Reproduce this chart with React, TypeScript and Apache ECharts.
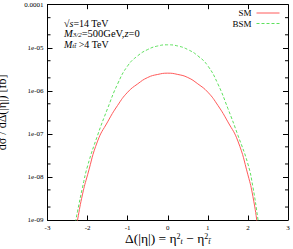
import React, { useEffect, useRef } from "react";
import * as echarts from "echarts";

const xs = [-2.35, -2.3, -2.25, -2.125, -2, -1.75, -1.5, -1.25, -1, -0.75, -0.5, -0.25, 0, 0.25, 0.5, 0.75, 1, 1.25, 1.5, 1.75, 2, 2.125, 2.25, 2.3, 2.35];
const smValues = [3e-10, 5e-10, 1.0e-9, 4.0e-9, 1.12e-8, 6.8e-8, 1.9e-7, 4.6e-7, 9.3e-7, 1.45e-6, 2.04e-6, 2.4e-6, 2.57e-6, 2.4e-6, 2.04e-6, 1.45e-6, 9.3e-7, 4.6e-7, 1.9e-7, 6.8e-8, 1.12e-8, 3.5e-9, 6.3e-10, 2.5e-10, 1.5e-10];
const bsmValues = [4e-10, 8.9e-10, 1.6e-9, 5.8e-9, 1.8e-8, 9.3e-8, 3.9e-7, 1.45e-6, 3.8e-6, 6.5e-6, 9.1e-6, 1.1e-5, 1.17e-5, 1.1e-5, 9.1e-6, 6.5e-6, 3.8e-6, 1.45e-6, 3.9e-7, 9.3e-8, 2.0e-8, 5.8e-9, 1.05e-9, 5e-10, 2.5e-10];
const yTickValues = [1e-9, 1e-8, 1e-7, 1e-6, 1e-5, 1e-4];
const yTickLabels = ["1e-09", "1e-08", "1e-07", "1e-06", "1e-05", "0.0001"];
const yMinorTicks = [5e-5, 2e-5, 5e-6, 2e-6, 5e-7, 2e-7, 5e-8, 2e-8, 5e-9, 2e-9];
const xTickLabels = ["-3", "-2", "-1", "0", "1", "2", "3"];

const FONT = "Liberation Serif";

export default function App() {
  const ref = useRef<HTMLDivElement>(null);
  useEffect(() => {
    if (!ref.current) return;
    const chart = echarts.init(ref.current, null, { renderer: "svg" });
    const labelFor = (v: number) => {
      const e = Math.round(Math.log10(v));
      const i = yTickValues.findIndex((t) => Math.round(Math.log10(t)) === e);
      return i >= 0 ? yTickLabels[i] : "";
    };
    const xLabel = (v: number) => {
      const i = Math.round(v) + 3;
      return xTickLabels[i] ?? "";
    };
    const ann = (fs: number) => ({
      a: { fontFamily: FONT, fontSize: fs, color: "#000", lineHeight: 10 },
      i: { fontFamily: FONT, fontSize: fs, fontStyle: "italic", color: "#000", lineHeight: 10 },
      sub: { fontFamily: FONT, fontSize: 7, fontStyle: "italic", color: "#000", lineHeight: 6, verticalAlign: "bottom" },
    });
    const axisLine = { show: true, onZero: false, lineStyle: { color: "#000", width: 1 } };
    chart.setOption({
      animation: false,
      backgroundColor: "#ffffff",
      grid: { left: 47.5, right: 5, top: 4.7, bottom: 29, containLabel: false, outerBoundsMode: "none" },
      legend: {
        data: ["SM", "BSM"],
        orient: "vertical",
        right: 13,
        top: 8.5,
        align: "right",
        itemWidth: 23,
        itemHeight: 8,
        itemGap: 1.5,
        padding: 0,
        itemStyle: { color: "transparent", borderWidth: 0, opacity: 0 },
        lineStyle: { width: 1 },
        textStyle: { fontFamily: FONT, fontSize: 9, color: "#000" },
      },
      xAxis: [
        {
          type: "value",
          min: -3,
          max: 3,
          interval: 1,
          position: "bottom",
          axisLine,
          axisTick: { show: true, inside: true, length: 4.5, lineStyle: { color: "#000" } },
          splitLine: { show: false },
          axisLabel: { formatter: xLabel, fontFamily: FONT, fontSize: 7, color: "#000", margin: 4 },
          name: "{a|Δ(|η|) = η}{sup|2}{sub|t}{a| − η}{sup|2}{sub|t\u0304}",
          nameLocation: "middle",
          nameGap: 12,
          nameMoveOverlap: false,
          nameTextStyle: {
            fontFamily: FONT,
            fontSize: 13.5,
            color: "#000",
            rich: {
              a: { fontFamily: FONT, fontSize: 13.5, color: "#000", lineHeight: 13 },
              sup: { fontFamily: FONT, fontSize: 8, color: "#000", lineHeight: 8, verticalAlign: "top" },
              sub: { fontFamily: FONT, fontSize: 8, fontStyle: "italic", color: "#000", lineHeight: 8, verticalAlign: "bottom" },
            },
          },
        },
        {
          type: "value",
          min: -3,
          max: 3,
          interval: 1,
          position: "top",
          axisLine,
          axisTick: { show: true, inside: true, length: 4.5, lineStyle: { color: "#000" } },
          splitLine: { show: false },
          axisLabel: { show: false },
        },
      ],
      yAxis: [
        {
          type: "log",
          logBase: 10,
          min: 1e-9,
          max: 1e-4,
          position: "left",
          axisLine,
          axisTick: { show: true, inside: true, length: 5, lineStyle: { color: "#000" } },
          splitLine: { show: false },
          axisLabel: { formatter: labelFor, fontFamily: FONT, fontSize: 7, color: "#000", margin: 4 },
          name: "dσ / dΔ(|η|) [fb]",
          nameLocation: "middle",
          nameGap: 40,
          nameMoveOverlap: false,
          nameTextStyle: { fontFamily: FONT, fontSize: 12, color: "#000" },
        },
        {
          type: "log",
          logBase: 10,
          min: 1e-9,
          max: 1e-4,
          position: "right",
          axisLine,
          axisTick: { show: true, inside: true, length: 5, lineStyle: { color: "#000" } },
          splitLine: { show: false },
          axisLabel: { show: false },
        },
      ],
      graphic: [
        {
          type: "text",
          left: 64,
          top: 18.5,
          style: { text: "√{i|s}=14 TeV", fontFamily: FONT, fontSize: 10, fill: "#000", rich: ann(10) },
        },
        {
          type: "text",
          left: 64,
          top: 28,
          style: { text: "{i|M}{sub|3/2}{a|=500GeV,}{i|z}{a|=0}", fontFamily: FONT, fontSize: 10, fill: "#000", rich: ann(10.5) },
        },
        {
          type: "text",
          left: 64,
          top: 39,
          style: { text: "{i|M}{sub|tt\u0304}{a| >4 TeV}", fontFamily: FONT, fontSize: 10, fill: "#000", rich: ann(10) },
        },
      ],
      series: [
        {
          name: "SM",
          type: "line",
          data: xs.map((x, i) => [x, smValues[i]]),
          smooth: 0.5,
          symbol: "none",
          clip: true,
          lineStyle: { color: "#ff5a5a", width: 1 },
          itemStyle: { color: "#ff5a5a" },
        },
        {
          name: "BSM",
          type: "line",
          data: xs.map((x, i) => [x, bsmValues[i]]),
          smooth: 0.5,
          symbol: "none",
          clip: true,
          lineStyle: { color: "#5ee05e", width: 1, type: [3, 2] },
          itemStyle: { color: "#5ee05e" },
        },
        {
          name: "minor",
          type: "custom",
          data: yMinorTicks.map((v) => [0, v]),
          encode: { x: 0, y: 1 },
          silent: true,
          renderItem: (_params: any, api: any) => {
            const v = api.value(1);
            const l = api.coord([-3, v]);
            const r = api.coord([3, v]);
            const s = { stroke: "#000", lineWidth: 1 };
            return {
              type: "group",
              children: [
                { type: "line", shape: { x1: l[0], y1: l[1], x2: l[0] + 3, y2: l[1] }, style: s },
                { type: "line", shape: { x1: r[0], y1: r[1], x2: r[0] - 3, y2: r[1] }, style: s },
              ],
            };
          },
        },
      ],
    });
    return () => chart.dispose();
  }, []);
  return <div ref={ref} style={{ position: "fixed", left: 0, top: 0, width: 293, height: 249 }} />;
}
